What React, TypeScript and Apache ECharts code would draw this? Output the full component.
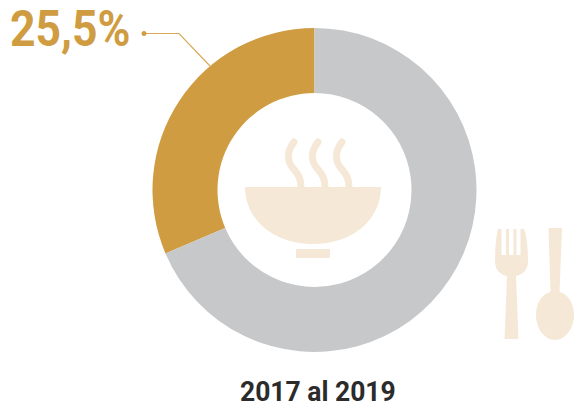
import React, { useEffect, useRef } from "react";
import * as echarts from "echarts";

const categories = ["2017 al 2019", "Resto"];
const sliceValues = [31.4, 68.6];
const sliceColors = ["#D09C42", "#C7C8CA"];
const valueLabel = "25,5%";
const titleLabel = "2017 al 2019";
const cream = "#F5E8D6";

const iconPaths: Record<string, string> = {
  bowl: "M245 187 L381 187 C381 220 352 244 313 244 C274 244 245 220 245 187 Z",
  steam: "M294 142 C287 151 287 160 292 167 C297 173 301 177 301 187 M318 142 C311 151 311 160 316 167 C321 173 325 177 325 187 M342 142 C335 151 335 160 340 167 C345 173 349 177 349 187",
  fork: "M498 229 L501.5 229 L501.5 255 L506 255 L506 229 L509 229 L509 255 L513.5 255 L513.5 229 L516.5 229 L516.5 255 L520.5 255 L520.5 229 L524 229 C527 236 528 250 528 262 C528 270 522 275 516 276 L518.5 339 L504.5 339 L507 276 C501 275 495 270 495 262 C495 250 496 236 498 229 Z",
  spoon: "M548.5 228 L562 228 L559.5 292 C568 294 574 303 574 315 C574 329 565 340 555 340 C545 340 536 329 536 315 C536 303 542 294 550.5 292 Z",
};
Object.entries(iconPaths).forEach(([name, d]) => {
  echarts.graphic.registerShape(name, echarts.graphic.extendPath(d, {}));
});

export default function App() {
  const ref = useRef<HTMLDivElement>(null);
  useEffect(() => {
    const chart = echarts.init(ref.current!, undefined, { renderer: "svg" });
    chart.setOption({
      animation: false,
      backgroundColor: "#fff",
      series: [
        {
          type: "pie",
          center: [314.5, 190],
          radius: [97, 162],
          startAngle: 90,
          clockwise: false,
          silent: true,
          label: { show: false },
          labelLine: { show: false },
          data: categories.map((name, i) => ({
            name,
            value: sliceValues[i],
            itemStyle: { color: sliceColors[i] },
          })),
        },
      ],
      graphic: [
        { type: "text", x: 10, y: 4.5, scaleX: 0.89, style: { text: valueLabel, fill: "#D09C42", font: "bold 50px Roboto" } },
        { type: "text", x: 240, y: 377.5, scaleX: 0.945, style: { text: titleLabel, fill: "#2B2B2B", font: "bold 28px Roboto" } },
        { type: "polyline", shape: { points: [[144, 33.5], [179, 33.5], [210, 66]] }, style: { stroke: "#D9A85A", lineWidth: 1.2, fill: "none" } },
        { type: "circle", shape: { cx: 144, cy: 33.5, r: 2.5 }, style: { fill: "#D09C42" } },
        { type: "bowl", style: { fill: cream } },
        { type: "rect", shape: { x: 296, y: 249, width: 34, height: 9 }, style: { fill: cream } },
        { type: "steam", style: { fill: "none", stroke: cream, lineWidth: 7, lineCap: "round" } },
        { type: "fork", style: { fill: cream } },
        { type: "spoon", style: { fill: cream } },
      ],
    });
    return () => chart.dispose();
  }, []);
  return <div ref={ref} style={{ position: "fixed", left: 0, top: 0, width: 574, height: 409 }} />;
}
